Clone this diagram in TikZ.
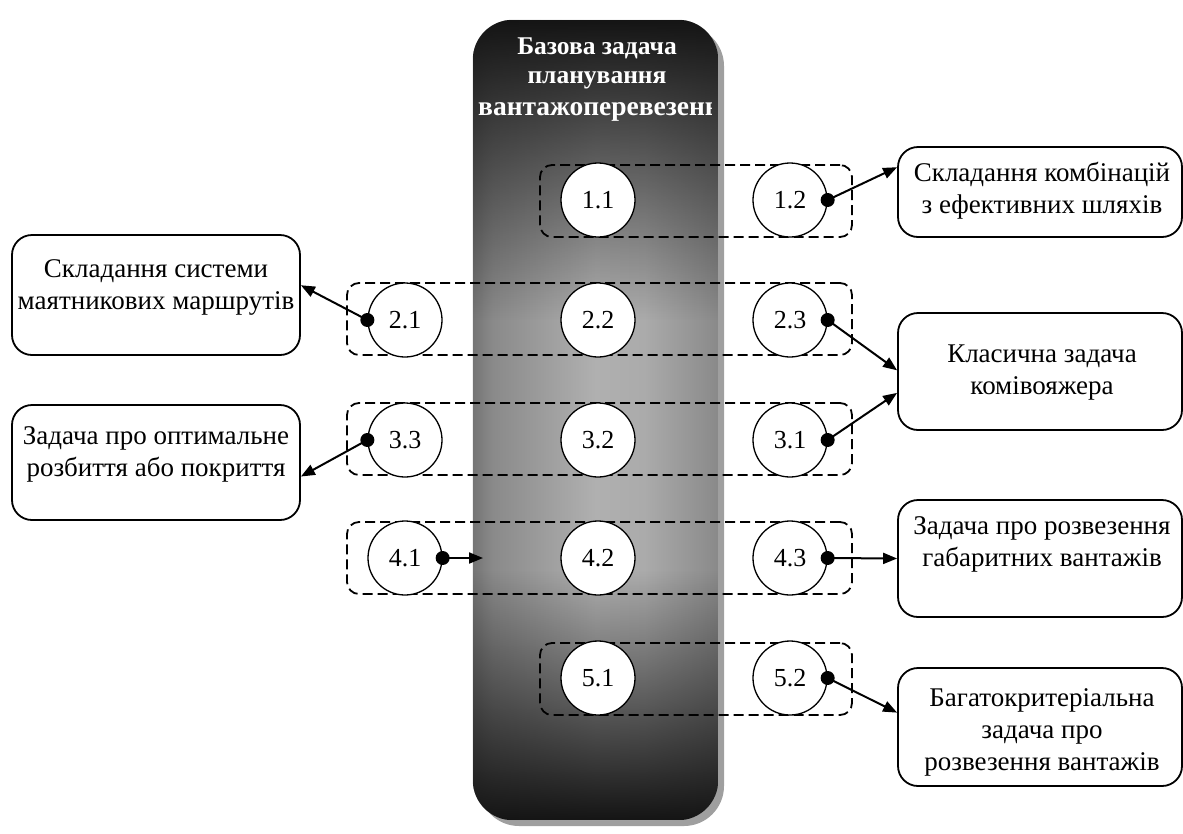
\documentclass[tikz,border=0pt]{standalone}
\usepackage{fontspec}
\setmainfont{Liberation Serif}
\usetikzlibrary{arrows.meta,calc,fadings}
\pgfdeclarehorizontalshading{cyl}{100bp}{color(0bp)=(black!95); color(15bp)=(black!75); color(29bp)=(black!46); color(50bp)=(black!31); color(60bp)=(black!33); color(76bp)=(black!47); color(90bp)=(black!69); color(100bp)=(black!95)}
\tikzfading[name=fadetop, top color=transparent!0, bottom color=transparent!100]
\tikzfading[name=fadebot, top color=transparent!100, bottom color=transparent!0]
\begin{document}
\begin{tikzpicture}[x=1pt,y=-1pt,
  txt/.style={font=\fontsize{27}{32}\selectfont, align=center, inner sep=0pt},
  ttl/.style={font=\fontsize{25.5}{32}\selectfont\bfseries, text=white, inner sep=0pt},
  box/.style={draw, line width=1.8pt, rounded corners=20pt, fill=white, inner sep=0pt},
  grp/.style={draw, line width=1.8pt, dash pattern=on 10pt off 5pt, rounded corners=12pt, inner sep=0pt},
  circ/.style={circle, draw, fill=white, line width=1.3pt, minimum size=74pt, inner sep=0pt, font=\fontsize{26}{28}\selectfont},
  conn/.style={line width=2pt, -{Triangle[length=14pt,width=11pt]}},
  dot/.style={fill=black}
]
\useasboundingbox (0,0) rectangle (1183,833);

% central column
\fill[gray!75, rounded corners=40pt] (479,26) rectangle (724,826);
\node[minimum width=245pt, minimum height=800pt, inner sep=0pt] (col) at (595.5,420) {};
\begin{scope}
  \clip[rounded corners=40pt] (col.south west) rectangle (col.north east);
  \shade[shading=cyl] (col.south west) rectangle (col.north east);
  \fill[black!92, path fading=fadetop] (col.north west) rectangle ($(col.north east)+(0,300)$);
  \fill[black!92, path fading=fadebot] ($(col.south west)+(0,-250)$) rectangle (col.south east);
\end{scope}

% title
\node[ttl] (t1) at (597,48) {Базова задача};
\node[ttl] (t2) at (597,80) {планування};
\begin{scope}
  \clip (474,90) rectangle (711,135);
  \node[ttl, font=\fontsize{27.5}{32}\selectfont\bfseries, anchor=west] (t3) at (478,112) {вантажоперевезень};
\end{scope}

% dashed groups
\node[grp, minimum width=312pt, minimum height=72pt] (g1) at (696,201) {};
\node[grp, minimum width=505pt, minimum height=72pt] (g2) at (599.5,319) {};
\node[grp, minimum width=505pt, minimum height=72pt] (g3) at (599.5,439) {};
\node[grp, minimum width=505pt, minimum height=72pt] (g4) at (599.5,558) {};
\node[grp, minimum width=312pt, minimum height=72pt] (g5) at (696,679) {};

% circles
\node[circ] (c11) at (598,200) {1.1};
\node[circ] (c12) at (790,200) {1.2};
\node[circ] (c21) at (405,320) {2.1};
\node[circ] (c22) at (598,320) {2.2};
\node[circ] (c23) at (790,320) {2.3};
\node[circ] (c33) at (405,440) {3.3};
\node[circ] (c32) at (598,440) {3.2};
\node[circ] (c31) at (790,440) {3.1};
\node[circ] (c41) at (405,558) {4.1};
\node[circ] (c42) at (598,558) {4.2};
\node[circ] (c43) at (790,558) {4.3};
\node[circ] (c51) at (598,678) {5.1};
\node[circ] (c52) at (790,678) {5.2};

% boxes
\node[box, minimum width=284pt, minimum height=90pt] (bA) at (1040,192) {};
\node[box, minimum width=284pt, minimum height=117pt] (bB) at (1040,371.5) {};
\node[box, minimum width=284pt, minimum height=117pt] (bC) at (1040,558.5) {};
\node[box, minimum width=284pt, minimum height=118pt] (bD) at (1040,727) {};
\node[box, minimum width=288pt, minimum height=120pt] (bE) at (156,295) {};
\node[box, minimum width=288pt, minimum height=115pt] (bF) at (156,462.5) {};

\node[txt] (tA) at (1042,191) {Складання комбінацій\\з ефективних шляхів};
\node[txt] (tB) at (1042,373) {Класична задача\\комівояжера};
\node[txt] (tC) at (1042,544) {Задача про розвезення\\габаритних вантажів};
\node[txt] (tD) at (1042,732) {Багатокритеріальна\\задача про\\розвезення вантажів};
\node[txt] (tE) at (156,287) {Складання системи\\маятникових маршрутів};
\node[txt] (tF) at (156,454) {Задача про оптимальне\\розбиття або покриття};

% connectors
\coordinate (e41) at (483,558);
\draw[conn] (c12.east) -- ($(bA.north west)!0.23!(bA.south west)$);
\draw[conn] (c21.west) -- ($(bE.north east)!0.42!(bE.south east)$);
\draw[conn] (c23.east) -- ($(bB.north west)!0.49!(bB.south west)$);
\draw[conn] (c31.east) -- ($(bB.north west)!0.68!(bB.south west)$);
\draw[conn] (c33.west) -- ($(bF.north east)!0.62!(bF.south east)$);
\draw[conn] (c41.east) -- (e41);
\draw[conn] (c43.east) -- (bC.west);
\draw[conn] (c52.east) -- ($(bD.north west)!0.38!(bD.south west)$);
\foreach \c/\a in {c12/east,c21/west,c23/east,c31/east,c33/west,c41/east,c43/east,c52/east}
  \fill[dot] (\c.\a) circle (7pt);
\end{tikzpicture}
\end{document}
